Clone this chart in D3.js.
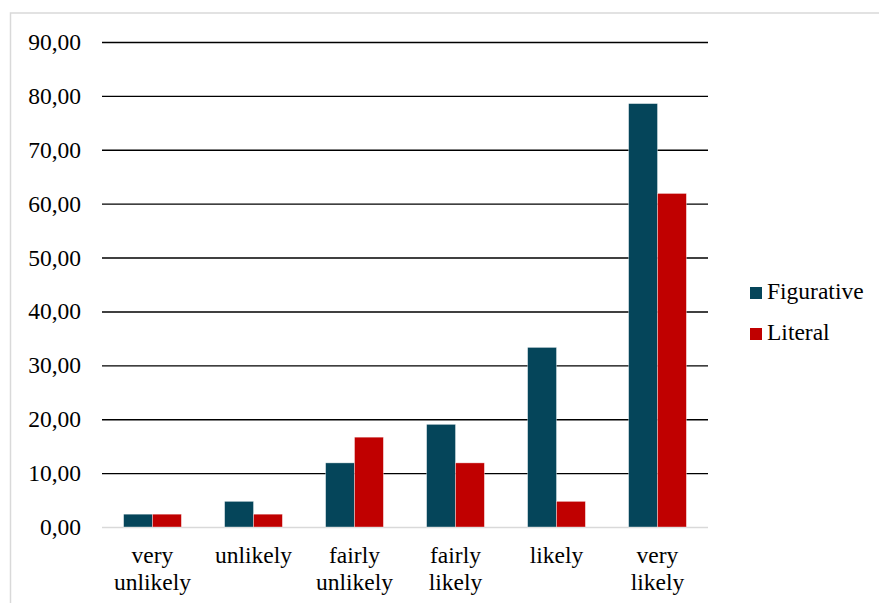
<!DOCTYPE html>
<html>
<head>
<meta charset="utf-8">
<script src="https://cdn.jsdelivr.net/npm/d3@7"></script>
<style>
  html, body { margin: 0; padding: 0; background: #fff; }
</style>
</head>
<body>
<svg id="chart" width="879" height="603" font-family="Liberation Serif"></svg>
<script>
// Response categories (two-line labels)
const categories = ["very unlikely", "unlikely", "fairly unlikely", "fairly likely", "likely", "very likely"];
const categoryLines = [["very", "unlikely"], ["unlikely"], ["fairly", "unlikely"], ["fairly", "likely"], ["likely"], ["very", "likely"]];
// Percentages per series
const seriesNames = ["Figurative", "Literal"];
const figurative = [2.38, 4.76, 11.90, 19.05, 33.33, 78.57];
const literal = [2.38, 2.38, 16.67, 11.90, 4.76, 61.90];
const yTicks = [0, 10, 20, 30, 40, 50, 60, 70, 80, 90];
const colors = ["#05455a", "#c00000"];

const FONT = "Liberation Serif";
const FS = 23.5;

const svg = d3.select("#chart");
const W = 879, H = 603;

// outer frame
svg.append("rect")
  .attr("x", 10.5).attr("y", 13)
  .attr("width", W + 20).attr("height", H + 20)
  .attr("fill", "#fff").attr("stroke", "#d9d9d9").attr("stroke-width", 1.5);

const plot = { left: 102, right: 708, top: 42, bottom: 527 };

const xCat = d3.scaleBand().domain(categories).range([plot.left, plot.right]).padding(0);
const barW = xCat.bandwidth() * 0.286;
const xSub = d3.scaleBand().domain(seriesNames).range([0, barW * 2]).padding(0);

const y = d3.scaleLinear().domain([0, 90]).range([plot.bottom, plot.top]);

// gridlines and value labels
const yAxis = d3.axisLeft(y).tickValues(yTicks)
  .tickSize(-(plot.right - plot.left)).tickPadding(21)
  .tickFormat(d => d3.format(".2f")(d).replace(".", ","));
const gy = svg.append("g").attr("transform", `translate(${plot.left},0)`).call(yAxis);
gy.attr("font-family", FONT).attr("font-size", FS);
gy.select(".domain").remove();
gy.selectAll(".tick line")
  .attr("stroke", d => d === 0 ? "#d9d9d9" : "#000")
  .attr("stroke-width", d => d === 0 ? 1.5 : 1.4);
gy.selectAll(".tick text")
  .attr("font-family", FONT).attr("font-size", FS).attr("fill", "#000");

// bars
const data = categories.map((c, i) => ({ c, vals: [figurative[i], literal[i]] }));
const groups = svg.append("g").selectAll("g").data(data).join("g")
  .attr("transform", d => `translate(${xCat(d.c) + (xCat.bandwidth() - barW * 2) / 2},0)`);
groups.selectAll("rect").data(d => d.vals.map((v, j) => ({ v, s: seriesNames[j], j })))
  .join("rect")
  .attr("x", d => xSub(d.s))
  .attr("y", d => y(d.v))
  .attr("width", xSub.bandwidth())
  .attr("height", d => y(0) - y(d.v))
  .attr("fill", d => colors[d.j])
  .attr("stroke", "#fff").attr("stroke-opacity", 0.5).attr("stroke-width", 0.75);

// category labels
const xAxis = svg.append("g").attr("font-family", FONT).attr("font-size", FS);
categoryLines.forEach((lines, i) => {
  const cx = xCat(categories[i]) + xCat.bandwidth() / 2;
  const t = xAxis.append("text")
    .attr("x", cx).attr("y", 563)
    .attr("text-anchor", "middle")
    .attr("font-family", FONT).attr("font-size", FS).attr("fill", "#000");
  lines.forEach((ln, k) => {
    t.append("tspan").attr("x", cx).attr("dy", k === 0 ? 0 : 27).text(ln);
  });
});

// legend
const legend = svg.append("g").attr("transform", "translate(750,287)");
seriesNames.forEach((s, i) => {
  const g = legend.append("g").attr("transform", `translate(0,${i * 41})`);
  g.append("rect").attr("width", 12).attr("height", 12).attr("fill", colors[i]);
  g.append("text").attr("x", 17).attr("y", 12)
    .attr("font-family", FONT).attr("font-size", FS).attr("fill", "#000").text(s);
});
</script>
</body>
</html>
